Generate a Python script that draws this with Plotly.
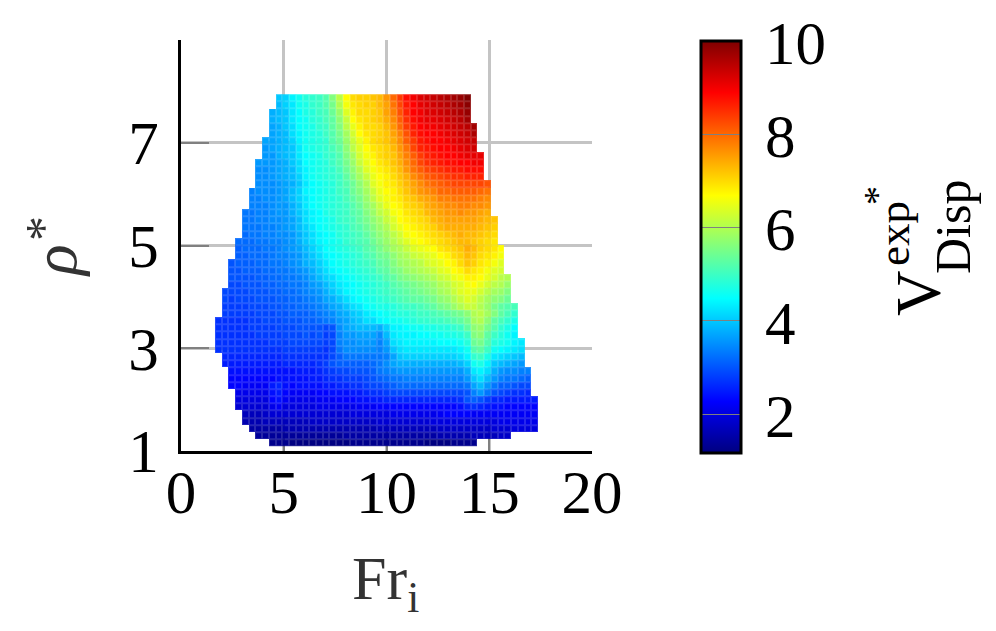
import plotly.graph_objects as go

# x ticks / y ticks / colorbar ticks
fr_ticks = [0, 5, 10, 15, 20]
rho_ticks = [1, 3, 5, 7]
cbar_ticks = [2, 4, 6, 8, 10]

# first filled column of each row, top row first
first_col = [9, 9, 8, 8, 8, 8, 7, 7, 7, 6, 6, 6, 6, 5, 5, 5, 4, 4, 4, 4, 3, 3, 3, 2, 2, 2, 2, 1, 1, 1, 1,
             0, 0, 0, 0, 0, 1, 1, 2, 2, 2, 3, 3, 3, 4, 4, 5, 6, 8]

# V*exp_Disp, top row (rho about 7.87) first
rows = [
    [4.0,4.1,4.4,4.6,4.8,4.9,5.0,5.2,5.6,6.1,6.7,7.0,7.1,7.1,7.2,7.3,7.6,8.0,8.4,8.8,9.0,9.2,9.3,9.4,9.5,9.6,9.7,9.8,10.0],
    [3.9,4.1,4.3,4.6,4.7,4.9,5.0,5.2,5.5,6.0,6.6,6.9,7.0,7.1,7.1,7.3,7.5,7.9,8.3,8.7,8.9,9.1,9.2,9.3,9.4,9.5,9.6,9.7,9.9],
    [3.8,3.9,4.0,4.3,4.5,4.7,4.8,5.0,5.1,5.4,5.8,6.4,6.8,7.0,7.0,7.1,7.2,7.5,7.8,8.2,8.6,8.9,9.0,9.2,9.2,9.3,9.4,9.5,9.6,9.8],
    [3.8,3.9,4.0,4.3,4.5,4.6,4.8,4.9,5.1,5.3,5.7,6.2,6.7,6.9,7.0,7.1,7.2,7.4,7.7,8.1,8.5,8.8,9.0,9.1,9.1,9.2,9.3,9.4,9.5,9.7],
    [3.7,3.8,4.0,4.2,4.5,4.6,4.7,4.9,5.0,5.3,5.6,6.1,6.5,6.8,7.0,7.0,7.1,7.3,7.6,8.0,8.4,8.7,8.9,9.0,9.0,9.1,9.2,9.3,9.4,9.5,9.7],
    [3.7,3.8,3.9,4.2,4.4,4.6,4.7,4.8,5.0,5.2,5.5,5.9,6.3,6.7,6.9,7.0,7.1,7.2,7.5,7.8,8.2,8.6,8.8,8.9,8.9,9.0,9.1,9.2,9.3,9.4,9.6],
    [3.7,3.7,3.8,3.9,4.1,4.4,4.6,4.7,4.8,4.9,5.2,5.4,5.8,6.2,6.5,6.8,7.0,7.1,7.2,7.4,7.7,8.1,8.4,8.7,8.8,8.9,8.9,9.0,9.1,9.2,9.3,9.4],
    [3.6,3.7,3.8,3.9,4.0,4.3,4.6,4.7,4.8,4.9,5.1,5.3,5.7,6.1,6.4,6.7,6.9,7.0,7.1,7.3,7.6,7.9,8.3,8.6,8.7,8.8,8.9,8.9,9.0,9.1,9.2,9.3],
    [3.6,3.6,3.8,3.9,4.0,4.3,4.5,4.6,4.7,4.9,5.0,5.2,5.6,5.9,6.3,6.6,6.8,7.0,7.1,7.2,7.5,7.8,8.1,8.4,8.6,8.7,8.8,8.9,8.9,9.0,9.1,9.1,9.1],
    [3.6,3.6,3.6,3.7,3.8,4.0,4.2,4.5,4.6,4.7,4.8,5.0,5.2,5.5,5.8,6.2,6.5,6.7,6.9,7.0,7.2,7.4,7.7,8.0,8.3,8.5,8.6,8.7,8.8,8.8,8.9,8.9,9.0,9.0],
    [3.5,3.5,3.6,3.7,3.8,3.9,4.2,4.4,4.6,4.7,4.8,4.9,5.1,5.4,5.7,6.0,6.4,6.6,6.8,6.9,7.1,7.3,7.6,7.9,8.1,8.3,8.4,8.5,8.6,8.7,8.7,8.8,8.8,8.8],
    [3.5,3.5,3.6,3.7,3.8,3.9,4.1,4.4,4.6,4.7,4.8,4.9,5.0,5.3,5.6,5.9,6.2,6.5,6.7,6.8,7.0,7.2,7.4,7.7,7.9,8.1,8.2,8.3,8.4,8.5,8.5,8.6,8.6,8.6],
    [3.5,3.5,3.5,3.6,3.7,3.8,4.0,4.3,4.5,4.6,4.7,4.8,5.0,5.2,5.4,5.7,6.0,6.4,6.6,6.8,6.9,7.1,7.3,7.5,7.7,7.9,8.0,8.1,8.2,8.3,8.3,8.3,8.3,8.3,8.2],
    [3.4,3.5,3.5,3.5,3.6,3.7,3.9,4.1,4.4,4.5,4.6,4.7,4.8,5.0,5.1,5.4,5.6,5.9,6.2,6.5,6.7,6.8,7.0,7.2,7.4,7.6,7.7,7.8,8.0,8.0,8.1,8.1,8.1,8.1,8.0,7.9],
    [3.4,3.4,3.5,3.5,3.6,3.7,3.9,4.1,4.3,4.5,4.6,4.7,4.8,4.9,5.1,5.3,5.5,5.8,6.1,6.4,6.6,6.8,6.9,7.1,7.2,7.4,7.5,7.6,7.8,7.8,7.9,7.9,7.9,7.9,7.8,7.7],
    [3.4,3.4,3.4,3.5,3.6,3.6,3.8,4.0,4.3,4.5,4.6,4.7,4.8,4.9,5.0,5.2,5.4,5.7,5.9,6.2,6.5,6.7,6.8,7.0,7.1,7.2,7.4,7.5,7.6,7.7,7.7,7.8,7.8,7.7,7.7,7.6],
    [3.3,3.3,3.4,3.4,3.5,3.6,3.6,3.8,4.0,4.2,4.4,4.5,4.7,4.8,4.9,5.0,5.2,5.3,5.6,5.8,6.1,6.3,6.6,6.7,6.9,7.0,7.1,7.3,7.4,7.5,7.6,7.6,7.7,7.6,7.6,7.5,7.4],
    [3.3,3.3,3.4,3.4,3.5,3.5,3.6,3.7,3.9,4.2,4.4,4.5,4.6,4.7,4.9,5.0,5.1,5.3,5.5,5.7,5.9,6.2,6.4,6.7,6.8,6.9,7.0,7.1,7.3,7.4,7.5,7.5,7.5,7.5,7.5,7.4,7.3,7.2],
    [3.3,3.3,3.3,3.4,3.4,3.5,3.6,3.7,3.9,4.1,4.3,4.5,4.6,4.7,4.8,4.9,5.1,5.2,5.4,5.6,5.8,6.0,6.3,6.5,6.7,6.8,6.9,7.0,7.1,7.3,7.4,7.4,7.4,7.4,7.4,7.3,7.2,7.1],
    [3.2,3.3,3.3,3.4,3.4,3.5,3.5,3.6,3.8,4.0,4.2,4.4,4.5,4.6,4.8,4.9,5.0,5.1,5.3,5.5,5.7,5.9,6.1,6.3,6.6,6.7,6.8,6.9,7.0,7.1,7.2,7.3,7.4,7.3,7.3,7.2,7.1,7.0],
    [3.2,3.2,3.2,3.3,3.3,3.4,3.4,3.5,3.6,3.8,4.0,4.2,4.4,4.5,4.6,4.7,4.9,5.0,5.1,5.2,5.4,5.6,5.8,6.0,6.2,6.4,6.6,6.7,6.8,6.9,7.0,7.1,7.2,7.3,7.3,7.2,7.1,7.0,6.9],
    [3.1,3.2,3.2,3.2,3.3,3.3,3.4,3.5,3.6,3.7,3.9,4.1,4.3,4.5,4.6,4.7,4.8,4.9,5.0,5.2,5.3,5.5,5.7,5.9,6.0,6.2,6.4,6.5,6.6,6.7,6.9,7.0,7.1,7.2,7.4,7.3,7.1,7.0,6.9,6.7],
    [3.1,3.1,3.2,3.2,3.2,3.3,3.4,3.4,3.5,3.6,3.8,4.0,4.2,4.4,4.5,4.6,4.7,4.8,4.9,5.1,5.2,5.4,5.5,5.7,5.9,6.0,6.2,6.3,6.4,6.5,6.7,6.8,7.0,7.1,7.3,7.2,7.0,6.9,6.8,6.6],
    [3.0,3.1,3.1,3.1,3.2,3.2,3.3,3.3,3.4,3.5,3.6,3.8,3.9,4.1,4.3,4.5,4.6,4.7,4.8,4.9,5.0,5.1,5.3,5.4,5.6,5.8,5.9,6.0,6.1,6.3,6.4,6.5,6.7,6.8,7.0,7.2,7.1,6.9,6.8,6.6,6.4],
    [3.0,3.0,3.1,3.1,3.1,3.2,3.2,3.3,3.3,3.4,3.5,3.6,3.8,4.0,4.2,4.4,4.5,4.6,4.7,4.8,4.9,5.0,5.2,5.3,5.5,5.6,5.8,5.9,6.0,6.1,6.2,6.4,6.5,6.7,6.8,7.0,6.9,6.8,6.6,6.4,6.3],
    [3.0,3.0,3.0,3.0,3.1,3.1,3.2,3.2,3.3,3.3,3.4,3.5,3.7,3.9,4.1,4.2,4.4,4.5,4.6,4.7,4.8,4.9,5.0,5.2,5.3,5.5,5.6,5.7,5.8,5.9,6.0,6.2,6.3,6.5,6.6,6.8,6.8,6.7,6.5,6.3,6.1,6.0],
    [2.9,2.9,3.0,3.0,3.0,3.1,3.1,3.2,3.2,3.3,3.3,3.4,3.6,3.7,3.9,4.1,4.3,4.4,4.5,4.6,4.7,4.8,4.9,5.0,5.2,5.3,5.4,5.5,5.6,5.7,5.8,6.0,6.1,6.3,6.4,6.6,6.7,6.5,6.3,6.1,6.0,5.8],
    [2.9,2.9,2.9,2.9,3.0,3.0,3.0,3.1,3.1,3.2,3.2,3.3,3.4,3.5,3.6,3.8,4.0,4.2,4.4,4.5,4.6,4.7,4.8,4.9,5.0,5.1,5.2,5.3,5.4,5.5,5.6,5.7,5.9,6.0,6.2,6.4,6.5,6.5,6.3,6.1,5.9,5.8,5.6],
    [2.9,2.8,2.9,2.9,2.9,3.0,3.0,3.0,3.1,3.1,3.2,3.2,3.3,3.4,3.5,3.7,3.8,4.0,4.2,4.4,4.5,4.6,4.7,4.8,4.9,5.0,5.1,5.2,5.3,5.3,5.4,5.5,5.7,5.8,6.0,6.2,6.4,6.3,6.1,5.9,5.7,5.6,5.4],
    [2.8,2.8,2.8,2.8,2.9,2.9,2.9,3.0,3.0,3.1,3.1,3.2,3.2,3.3,3.4,3.5,3.7,3.8,4.0,4.2,4.3,4.5,4.6,4.7,4.7,4.8,4.9,5.0,5.0,5.1,5.2,5.3,5.5,5.6,5.8,6.0,6.2,6.2,6.0,5.8,5.5,5.3,5.2,5.1],
    [2.8,2.8,2.8,2.8,2.8,2.9,2.9,2.9,3.0,3.0,3.1,3.1,3.1,3.2,3.3,3.4,3.5,3.7,3.8,4.0,4.1,4.3,4.4,4.5,4.6,4.7,4.8,4.8,4.9,5.0,5.0,5.1,5.2,5.3,5.4,5.5,5.7,6.0,6.1,5.9,5.6,5.3,5.1,4.9],
    [2.7,2.7,2.7,2.7,2.7,2.8,2.8,2.9,2.9,2.9,3.0,3.0,3.0,3.1,3.1,3.2,3.3,3.4,3.6,3.7,3.9,4.0,4.2,4.2,4.4,4.5,4.6,4.6,4.7,4.8,4.9,4.9,5.0,5.0,5.1,5.2,5.3,5.5,5.9,6.0,5.7,5.3,5.1,4.9,4.7],
    [2.7,2.7,2.7,2.7,2.7,2.8,2.8,2.8,2.8,2.9,2.9,2.9,3.0,3.0,3.0,3.0,2.9,3.0,3.5,3.7,3.8,3.9,3.9,3.9,3.8,4.1,4.4,4.4,4.5,4.6,4.6,4.7,4.7,4.8,4.8,4.9,5.0,5.3,5.7,5.8,5.5,5.2,4.9,4.7,4.5],
    [2.7,2.7,2.7,2.7,2.7,2.7,2.8,2.8,2.8,2.8,2.9,2.9,2.9,3.0,2.9,3.0,2.8,2.9,3.4,3.6,3.6,3.7,3.7,3.7,3.5,3.9,4.3,4.4,4.4,4.4,4.5,4.5,4.6,4.6,4.7,4.7,4.8,5.0,5.6,5.7,5.3,5.0,4.8,4.6,4.4],
    [2.7,2.7,2.7,2.7,2.7,2.7,2.7,2.7,2.8,2.8,2.8,2.9,2.9,2.9,2.9,2.9,2.8,2.9,3.4,3.5,3.5,3.6,3.6,3.6,3.4,3.7,4.2,4.3,4.4,4.4,4.4,4.4,4.4,4.5,4.5,4.5,4.6,4.8,5.4,5.5,5.2,4.8,4.7,4.6,4.4,4.3],
    [2.7,2.7,2.7,2.7,2.7,2.7,2.7,2.7,2.7,2.7,2.8,2.8,2.8,2.8,2.8,2.8,2.7,2.9,3.3,3.5,3.5,3.5,3.5,3.5,3.4,3.6,4.0,4.2,4.3,4.3,4.3,4.3,4.3,4.3,4.3,4.3,4.4,4.6,5.2,5.3,5.0,4.6,4.5,4.4,4.3,4.2],
    [2.6,2.6,2.6,2.6,2.6,2.6,2.6,2.6,2.6,2.7,2.7,2.7,2.7,2.7,2.7,2.7,2.9,3.1,3.3,3.3,3.3,3.3,3.3,3.3,3.4,3.7,4.0,4.1,4.1,4.1,4.1,4.1,4.1,4.1,4.1,4.2,4.4,4.9,5.0,4.7,4.3,4.2,4.1,4.0,3.9],
    [2.5,2.5,2.5,2.5,2.5,2.5,2.5,2.5,2.5,2.6,2.6,2.6,2.6,2.6,2.7,2.8,3.0,3.1,3.1,3.1,3.1,3.1,3.2,3.3,3.5,3.7,3.8,3.8,3.8,3.8,3.8,3.8,3.8,3.8,3.8,3.9,4.1,4.6,4.7,4.4,4.0,3.9,3.8,3.7,3.6],
    [2.4,2.4,2.4,2.4,2.4,2.4,2.4,2.4,2.4,2.4,2.5,2.5,2.5,2.6,2.7,2.8,2.9,2.9,3.0,3.0,3.0,3.1,3.3,3.4,3.5,3.6,3.6,3.6,3.6,3.6,3.6,3.6,3.6,3.6,3.6,3.8,4.3,4.4,4.2,3.8,3.6,3.5,3.5,3.4,3.4],
    [2.3,2.3,2.3,2.3,2.3,2.3,2.3,2.4,2.4,2.4,2.4,2.4,2.5,2.5,2.6,2.7,2.7,2.8,2.8,2.8,2.9,3.0,3.1,3.2,3.3,3.3,3.4,3.4,3.4,3.4,3.4,3.4,3.4,3.4,3.4,3.6,4.0,4.2,3.9,3.6,3.4,3.3,3.3,3.2,3.1],
    [2.3,2.3,2.2,2.2,2.2,2.2,2.5,2.6,2.4,2.3,2.4,2.4,2.4,2.4,2.5,2.5,2.6,2.6,2.7,2.7,2.8,2.9,2.9,3.0,3.1,3.2,3.2,3.2,3.2,3.2,3.2,3.2,3.2,3.2,3.2,3.3,3.7,3.9,3.6,3.3,3.1,3.1,3.0,2.9,2.9],
    [2.1,2.1,2.1,2.1,2.1,2.4,2.5,2.3,2.2,2.2,2.2,2.2,2.3,2.3,2.4,2.4,2.4,2.5,2.5,2.6,2.7,2.7,2.8,2.9,2.9,2.9,2.9,2.9,2.9,2.9,2.9,2.9,2.9,2.9,3.0,3.4,3.6,3.3,3.0,2.9,2.8,2.7,2.7,2.6],
    [2.0,2.0,2.0,2.0,2.0,2.3,2.4,2.2,2.1,2.1,2.1,2.1,2.2,2.2,2.2,2.3,2.3,2.3,2.4,2.4,2.5,2.5,2.6,2.6,2.6,2.6,2.6,2.6,2.6,2.6,2.6,2.6,2.6,2.7,3.0,3.1,3.0,2.8,2.6,2.6,2.5,2.5,2.5,2.5,2.5],
    [1.9,1.9,1.9,1.9,1.9,2.1,2.2,2.0,2.0,2.0,2.0,2.0,2.1,2.1,2.1,2.1,2.1,2.1,2.2,2.2,2.2,2.3,2.3,2.3,2.3,2.3,2.3,2.3,2.3,2.3,2.3,2.3,2.3,2.4,2.6,2.7,2.6,2.5,2.4,2.4,2.3,2.3,2.3,2.3,2.3],
    [1.7,1.7,1.7,1.8,1.9,1.9,1.9,1.9,1.9,1.9,1.9,1.9,1.9,1.9,1.9,1.9,2.0,2.0,2.0,2.0,2.0,2.0,2.1,2.1,2.1,2.1,2.1,2.1,2.1,2.2,2.3,2.3,2.3,2.3,2.2,2.2,2.2,2.2,2.2,2.2,2.2,2.2,2.2,2.2],
    [1.6,1.6,1.6,1.7,1.7,1.7,1.7,1.7,1.7,1.7,1.8,1.8,1.8,1.8,1.8,1.8,1.8,1.8,1.8,1.8,1.9,1.9,1.9,1.9,1.9,1.9,1.9,1.9,2.0,2.0,2.0,2.0,2.0,2.0,2.0,2.0,2.0,2.0,2.1,2.1,2.1,2.1,2.1,2.1],
    [1.5,1.5,1.5,1.5,1.5,1.6,1.6,1.6,1.6,1.6,1.6,1.6,1.6,1.6,1.6,1.6,1.6,1.6,1.6,1.7,1.7,1.7,1.7,1.7,1.7,1.7,1.7,1.7,1.8,1.8,1.8,1.8,1.8,1.8,1.8,1.8,1.9,1.9,1.9,2.0,2.0,2.0,2.0],
    [1.4,1.4,1.4,1.4,1.4,1.4,1.4,1.4,1.4,1.4,1.4,1.4,1.4,1.5,1.5,1.5,1.5,1.5,1.5,1.5,1.5,1.5,1.5,1.5,1.5,1.5,1.5,1.6,1.6,1.6,1.6,1.6,1.7,1.7,1.7,1.7,1.8,1.8],
    [1.3,1.3,1.3,1.2,1.2,1.2,1.2,1.2,1.2,1.2,1.2,1.2,1.3,1.3,1.3,1.3,1.3,1.3,1.3,1.3,1.3,1.3,1.3,1.2,1.2,1.2,1.2,1.3,1.3,1.3,1.3],
]

jet = [[0, "#00007f"], [0.125, "#0000ff"], [0.375, "#00ffff"], [0.625, "#ffff00"], [0.875, "#ff0000"], [1, "#7f0000"]]

# pad the rows out to a full matrix, bottom row first
ncols = 48
z = []
for start, row in zip(first_col[::-1], rows[::-1]):
    z.append([None] * start + row + [None] * (ncols - start - len(row)))

fig = go.Figure()
# paler copy underneath, the gaps of the top copy let it show as the faint lattice
fig.add_trace(go.Heatmap(
    z=z,
    x0=1.818, dx=0.3275,
    y0=1.155, dy=0.14,
    colorscale=jet,
    zmin=1.18, zmax=10,
    opacity=0.85,
    showscale=False,
))
fig.add_trace(go.Heatmap(
    z=z,
    x0=1.818, dx=0.3275,
    y0=1.155, dy=0.14,
    xgap=2, ygap=2,
    colorscale=jet,
    zmin=1.18, zmax=10,
    colorbar=dict(
        x=(701 - 181) / 411, xanchor="left",
        y=-0.004, yanchor="bottom",
        lenmode="pixels", len=412,
        thicknessmode="pixels", thickness=40,
        xpad=0, ypad=0,
        outlinecolor="black", outlinewidth=3,
        tickvals=cbar_ticks,
        showticklabels=False,
        ticks="inside", ticklen=40, tickwidth=1, tickcolor="#808080",
    ),
))

tick_style = dict(ticks="inside", ticklen=28, tickwidth=2, tickcolor="#808080",
                  showgrid=True, gridcolor="#c4c4c4", gridwidth=3, zeroline=False,
                  showline=True, linecolor="black", linewidth=3,
                  layer="below traces", tickfont=dict(size=61, color="black"))
fig.update_xaxes(range=[0, 20], tickvals=fr_ticks, ticklabelstandoff=-14, **tick_style)
fig.update_yaxes(range=[1, 9], tickvals=rho_ticks, ticklabelstandoff=7, **tick_style)

def note(px, py, text, size, angle=0, color="black", anchor="center"):
    fig.add_annotation(x=(px - 181) / 411, y=(451 - py) / 411, xref="paper", yref="paper",
                       xanchor=anchor, yanchor="middle",
                       text=text, showarrow=False, textangle=angle,
                       font=dict(size=size, color=color))

note(385, 582, "Fr<sub>i</sub>", 62, color="#333333")
note(54, 261, "<i>ρ</i>", 64, -90, color="#333333")
note(43, 229, "*", 50, -90, color="#333333")
note(919, 293, "V", 63, -90)
note(894, 234, "exp", 45, -90)
note(877, 196, "*", 38, -90)
note(953, 227, "Disp", 50, -90)

# colorbar tick labels sit further from the bar than the library leaves them
for v in cbar_ticks:
    note(763, 41 + (10 - v) * 46.7 + 2, str(v), 61, anchor="left")

fig.update_layout(
    width=988, height=615,
    margin=dict(l=173, r=404, t=32, b=172),
    paper_bgcolor="white", plot_bgcolor="white",
    font=dict(family="Liberation Serif"),
)
fig.write_html("out.html")
